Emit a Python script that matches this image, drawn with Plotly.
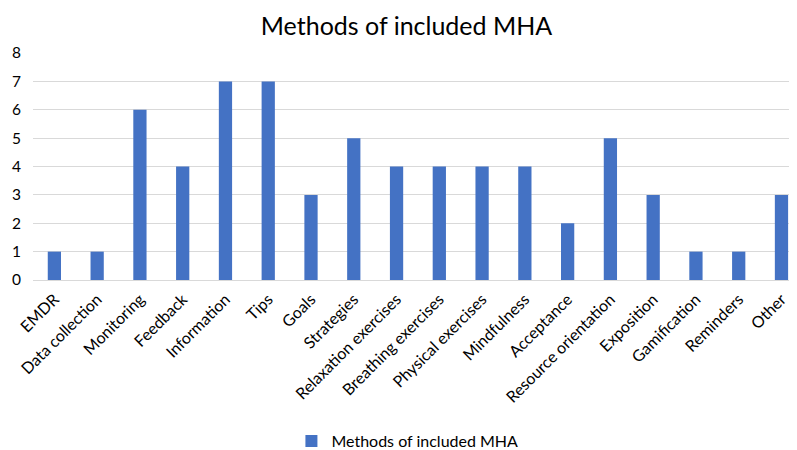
import plotly.graph_objects as go

categories = ["EMDR", "Data collection", "Monitoring", "Feedback", "Information", "Tips",
              "Goals", "Strategies", "Relaxation exercises", "Breathing exercises",
              "Physical exercises", "Mindfulness", "Acceptance", "Resource orientation",
              "Exposition", "Gamification", "Reminders", "Other"]
values = [1, 1, 6, 4, 7, 7, 3, 5, 4, 4, 4, 4, 2, 5, 3, 1, 1, 3]
series_name = "Methods of included MHA"
y_ticks = [0, 1, 2, 3, 4, 5, 6, 7, 8]

FONT = "Lato, Open Sans, sans-serif"

fig = go.Figure(go.Bar(
    x=categories, y=values, name=series_name,
    marker=dict(color="#4472C4", line=dict(width=0)),
    showlegend=True,
))

fig.update_layout(
    width=797, height=450,
    margin=dict(l=25, r=0, t=45, b=178),
    paper_bgcolor="white", plot_bgcolor="white",
    title=dict(text="Methods of included MHA", x=0.5, xanchor="center",
               y=1 - 18 / 450, yanchor="middle", yref="container",
               font=dict(family=FONT, size=25, color="#000000")),
    bargap=0.69,
    font=dict(family=FONT, size=15, color="#000000"),
    xaxis=dict(tickangle=-45, showgrid=False, showline=False, ticks="",
               tickfont=dict(size=16), range=[-0.5, 17.55], automargin=False,
               ticklabelstandoff=6),
    yaxis=dict(range=[0, 8], tickvals=y_ticks, showgrid=True, gridcolor="#d9d9d9",
               gridwidth=1, zeroline=True, zerolinecolor="#d9d9d9", zerolinewidth=1,
               ticks="", ticklabelstandoff=11, tickfont=dict(size=15.5), automargin=False),
    legend=dict(orientation="h", x=0.485, xanchor="center", y=0.0,
                yanchor="bottom", yref="container", font=dict(size=16), itemwidth=30,
                borderwidth=0),
)

fig.write_html("out.html")
